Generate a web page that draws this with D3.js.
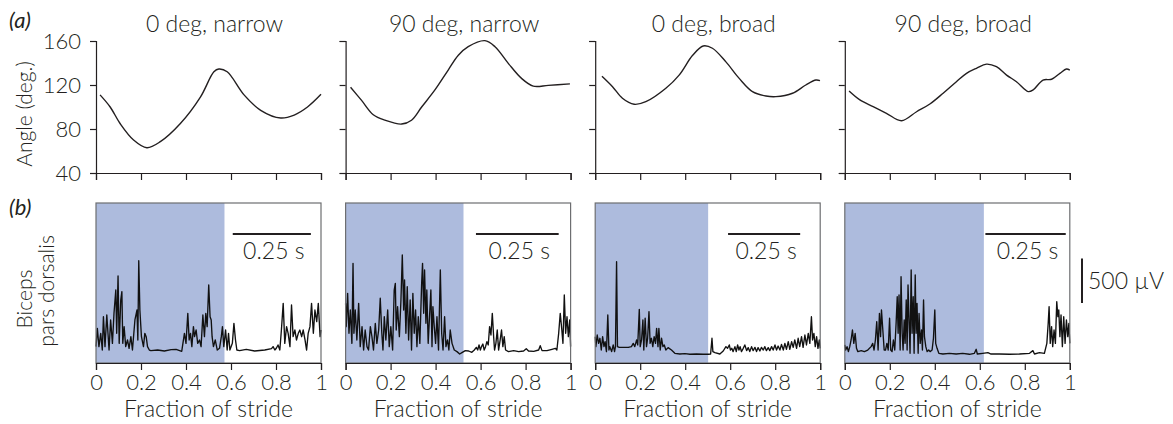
<!DOCTYPE html>
<html>
<head>
<meta charset="utf-8">
<script src="https://cdn.jsdelivr.net/npm/d3@7"></script>
<style>
  body { margin: 0; background: #fff; }
  svg text { font-family: Lato, "Open Sans", sans-serif; font-weight: 300; fill: #231f20; }
</style>
</head>
<body>
<div id="chart"></div>
<script>
// data
const titles = ['0 deg, narrow', '90 deg, narrow', '0 deg, broad', '90 deg, broad']
const stanceEnd = [0.571, 0.524, 0.502, 0.618]      // shaded part of the stride
const strideDur = [0.72, 0.68, 0.78, 0.70]           // s, gives the 0.25 s bar length
const barEnd = [0.955, 0.947, 0.911, 0.982]
const angleTicks = [40, 80, 120, 160]
const strideTicks = [0, 0.2, 0.4, 0.6, 0.8, 1]

// elbow angle, [fraction of stride, deg]
const angle0n = [[0.018,111],[0.063,100],[0.107,85],[0.167,70],[0.226,63],[0.286,68.5],[0.375,85],[0.464,109],[0.524,132],[0.546,134.5],[0.583,132],[0.658,111],[0.732,97],[0.821,90],[0.881,92.7],[0.94,100],[1.0,111.5]]
const angle90n = [[0.022,118],[0.071,106],[0.123,93],[0.175,88],[0.249,84.5],[0.293,88],[0.338,100],[0.397,115.5],[0.456,133.6],[0.501,147],[0.545,154.8],[0.619,160.3],[0.664,154.8],[0.723,139.7],[0.782,126],[0.834,119],[0.901,119.7],[0.997,121]]
const angle0b = [[0.03,128],[0.077,118.5],[0.121,108],[0.173,102.5],[0.225,104.8],[0.314,117],[0.373,129],[0.433,147],[0.48,155.5],[0.521,153.4],[0.581,141],[0.64,126],[0.699,114],[0.759,110],[0.803,109.4],[0.877,112.5],[0.936,120],[0.981,124.5],[0.999,124]]
const angle90b = [[0.019,114.5],[0.067,106.4],[0.126,100.3],[0.185,94.3],[0.252,87.5],[0.319,95.7],[0.378,102.7],[0.437,112.5],[0.496,123],[0.541,130.6],[0.585,135.2],[0.63,139],[0.674,136.6],[0.719,129],[0.763,123],[0.815,114],[0.837,115.5],[0.881,124.5],[0.919,125.2],[0.956,130.6],[0.985,134.5],[1.0,133.6]]

// biceps EMG, [% of stride, µV]
const emg0n = [[0,184],[0.6,390],[1.3,184],[2.1,334],[2.8,146],[3.3,521],[4,184],[4.8,540],[5.8,146],[6.5,484],[7.3,221],[8,559],[8.8,821],[9.2,334],[9.8,979],[10.3,221],[11,709],[11.5,803],[11.9,221],[12.5,409],[13.2,184],[14,259],[14.7,165],[15.5,296],[16.2,146],[17.3,484],[18.2,596],[18.6,259],[19,1151],[19.5,596],[20.2,296],[21.1,184],[21.7,334],[22.3,296],[22.9,184],[23.7,146],[24.4,139],[27.4,146],[30.4,135],[33.4,150],[35.6,154],[38.1,131],[39.3,334],[40,221],[40.8,559],[41.4,259],[42,334],[42.6,184],[43.3,409],[43.8,296],[44.5,371],[45.2,221],[46,259],[46.7,184],[47.5,540],[48.2,296],[48.8,559],[49.4,409],[50.1,878],[50.7,521],[51.2,484],[51.6,296],[52.2,184],[53,259],[53.9,146],[54.9,165],[55.7,296],[56.2,409],[56.8,184],[57.6,371],[58.3,146],[58.9,334],[59.5,146],[60.6,221],[61.3,446],[62,259],[62.6,146],[63.8,139],[66.8,154],[70.5,135],[75,146],[78,161],[78.7,184],[79.5,146],[80.2,169],[80.9,203],[81.7,146],[82.4,371],[83.2,671],[83.9,221],[84.7,409],[85.4,334],[86.2,184],[86.9,653],[87.6,296],[88.4,371],[89.1,259],[89.9,334],[90.6,371],[91.4,296],[92.1,371],[92.9,259],[93.6,146],[94.3,334],[95.1,409],[95.8,671],[96.6,334],[97.3,596],[98.1,465],[98.8,671],[99.6,296],[100,371]]
const emg90n = [[0,671],[0.3,409],[0.9,784],[1.5,334],[2.1,596],[2.8,221],[3.3,1121],[3.7,334],[4.3,596],[5,259],[5.8,671],[6.5,184],[7.3,409],[8,146],[8.7,371],[9.5,184],[10.2,146],[11,409],[11.7,296],[12.4,146],[13.2,446],[13.9,221],[14.7,371],[15.4,728],[16.1,334],[16.6,146],[17.2,521],[17.9,259],[18.7,596],[19.4,184],[20.1,409],[20.9,146],[21.6,821],[22.1,896],[22.5,371],[23.1,634],[23.9,296],[24.6,709],[25.2,1215],[25.8,596],[26.2,934],[26.8,334],[27.4,859],[28,259],[28.7,709],[29.3,146],[29.9,784],[30.5,334],[31.1,596],[31.7,184],[32.3,521],[33,221],[33.8,896],[34.2,1121],[34.7,559],[35.1,1046],[35.7,446],[36.1,821],[36.7,221],[37.3,521],[37.9,821],[38.4,184],[38.8,634],[39.4,409],[40,221],[40.6,521],[41.3,146],[42.1,1046],[42.7,334],[43.3,146],[44,521],[44.6,184],[45.3,259],[45.9,146],[46.5,371],[47.3,221],[48.3,146],[49.5,128],[50.7,101],[51.7,116],[53.2,139],[54.7,135],[56.1,120],[57.2,146],[58.1,176],[58.7,146],[59.3,203],[59.9,146],[60.4,184],[61,214],[61.6,146],[62.2,184],[62.8,240],[63.4,203],[64,409],[64.6,315],[65.2,559],[65.8,296],[66.2,146],[66.8,221],[67.4,371],[68,146],[68.7,259],[69.3,371],[69.9,184],[70.5,296],[71.1,146],[72.4,128],[74.7,139],[76.9,128],[79.1,135],[80.3,161],[81.3,135],[83.6,131],[85.8,146],[86.5,195],[87.3,139],[89.5,139],[91.7,154],[93.2,165],[93.9,146],[94.7,334],[95.4,559],[96.1,371],[96.6,221],[97.2,765],[97.8,334],[98.4,521],[99,296],[99.6,484],[100,184]]
const emg0b = [[0,296],[0.3,184],[0.9,315],[1.5,221],[2.1,278],[2.7,146],[3.3,296],[3.9,184],[4.4,240],[5,128],[5.6,540],[6.1,146],[6.5,184],[7.3,128],[8,203],[8.6,128],[9,184],[9.5,1140],[9.9,184],[10.7,176],[12.4,176],[14.7,176],[16.1,184],[16.9,221],[17.6,184],[18.4,259],[18.9,203],[19.6,604],[20,184],[20.6,259],[21.2,484],[21.6,146],[22.2,503],[22.8,184],[23.3,278],[23.9,578],[24.4,221],[25,278],[25.6,184],[26.2,296],[26.8,221],[27.3,390],[27.9,184],[28.3,390],[28.9,146],[29.5,278],[30.1,184],[30.7,203],[31.4,146],[32.4,173],[33.9,146],[35.4,109],[37.6,101],[39.9,105],[42.1,98],[45,101],[48,98],[50.2,98],[51.3,101],[51.9,278],[52.3,128],[53.2,116],[55.4,101],[56.9,135],[58.1,184],[58.8,165],[59.6,203],[60.1,146],[60.7,165],[61.3,128],[62.1,184],[62.7,128],[63.3,203],[63.9,146],[64.4,184],[65,128],[65.8,165],[66.5,203],[67.3,139],[68,173],[68.7,128],[69.5,184],[70.2,139],[71,176],[71.7,128],[72.4,173],[73.2,135],[73.9,176],[74.7,146],[75.4,184],[76.1,139],[76.9,173],[77.6,139],[78.4,184],[79.1,146],[79.9,203],[80.6,146],[81.3,191],[82.1,146],[82.8,210],[83.6,146],[84.3,221],[85,154],[85.8,240],[86.5,154],[87.3,240],[88,176],[88.7,259],[89.5,165],[90.2,278],[90.9,184],[91.7,296],[92.4,176],[93.2,315],[93.9,203],[94.7,334],[95.4,221],[96.1,521],[96.6,259],[97.2,334],[97.8,184],[98.4,296],[99,165],[99.6,259],[100,165]]
const emg90b = [[0,203],[0.4,146],[1,184],[1.6,128],[2.2,184],[2.8,259],[3.4,371],[4,221],[4.6,334],[5.2,165],[5.8,128],[7.3,139],[8.7,128],[10.2,146],[11.7,184],[12.4,221],[13,146],[13.6,259],[14.2,465],[14.8,146],[15.4,559],[15.9,296],[16.3,596],[16.9,371],[17.5,146],[18.1,146],[18.7,221],[19.3,146],[19.9,503],[20.4,146],[21,128],[21.6,259],[22.2,146],[22.8,446],[23.3,746],[23.7,334],[24.1,765],[24.6,146],[25,971],[25.5,334],[25.9,146],[26.4,484],[26.8,221],[27.3,709],[27.7,146],[28.1,878],[28.6,446],[29,109],[29.5,1046],[29.9,334],[30.4,746],[30.8,109],[31.3,990],[31.7,334],[32.1,671],[32.6,109],[33,559],[33.5,221],[34.1,371],[34.5,146],[35,709],[35.4,296],[36,184],[36.6,128],[37.3,146],[37.9,128],[38.8,146],[39.4,278],[40,596],[40.4,221],[41,165],[41.8,109],[43.6,101],[46.5,109],[49.5,101],[52.4,109],[55.4,98],[57.6,109],[58.4,154],[58.9,101],[61.3,109],[63.6,116],[65,101],[68.7,101],[73.2,98],[77.6,101],[82.1,109],[83.6,139],[84.3,101],[86.5,116],[88.7,109],[89.8,221],[90.4,446],[90.8,634],[91.3,221],[91.9,409],[92.4,184],[93,371],[93.6,221],[94.2,690],[94.7,521],[95.1,596],[95.6,296],[96.1,540],[96.7,184],[97.3,521],[97.9,221],[98.5,484],[99.1,296],[99.6,446],[100,221]]

const angles = [angle0n, angle90n, angle0b, angle90b]
const emgs = [emg0n, emg90n, emg0b, emg90b]

// layout
const width = 1173
const height = 424
const panelW = 225
const panelStep = 249.6
const firstLeft = 96
const topBox = {y0: 41, y1: 173}
const botBox = {y0: 203, y1: 363}

const svg = d3.select('#chart').append('svg').attr('width', width).attr('height', height)

const yAngle = d3.scaleLinear().domain([40, 160]).range([topBox.y1, topBox.y0])
const yEmg = d3.scaleLinear().domain([0, 1800]).range([botBox.y1, botBox.y0])

titles.forEach((title, i) => {
    const left = firstLeft + i * panelStep
    const x = d3.scaleLinear().domain([0, 1]).range([left, left + panelW])

    // ---- (a) joint angle
    const g = svg.append('g')
    g.append('text')
        .attr('x', x(0.5) + 6).attr('y', 32)
        .attr('text-anchor', 'middle')
        .style('font-size', '23px')
        .text(title)

    const xAxisTop = d3.axisBottom(x).tickValues(strideTicks).tickSize(7).tickFormat('')
    g.append('g').attr('transform', `translate(0,${topBox.y1})`).call(xAxisTop)

    const yAxis = d3.axisLeft(yAngle).tickValues(angleTicks).tickSize(6).tickPadding(9)
    const yg = g.append('g').attr('transform', `translate(${left},0)`).call(yAxis)
    if (i > 0) yg.selectAll('text').remove()

    g.append('path')
        .datum(angles[i])
        .attr('fill', 'none')
        .attr('stroke', '#231f20')
        .attr('stroke-width', 1.4)
        .attr('d', d3.line().x(d => x(d[0])).y(d => yAngle(d[1])).curve(d3.curveCatmullRom))

    // ---- (b) EMG
    const b = svg.append('g')
    b.append('rect')
        .attr('x', x(0)).attr('y', botBox.y0)
        .attr('width', x(stanceEnd[i]) - x(0)).attr('height', botBox.y1 - botBox.y0)
        .attr('fill', '#adbbdd')

    const xPct = d3.scaleLinear().domain([0, 100]).range([left, left + panelW])
    b.append('path')
        .datum(emgs[i])
        .attr('fill', 'none')
        .attr('stroke', '#111')
        .attr('stroke-width', 1.35)
        .attr('stroke-linejoin', 'round')
        .attr('d', d3.line().x(d => xPct(d[0])).y(d => yEmg(d[1])))

    b.append('rect')
        .attr('x', x(0)).attr('y', botBox.y0)
        .attr('width', panelW).attr('height', botBox.y1 - botBox.y0)
        .attr('fill', 'none')
        .attr('stroke', '#6d6e71')
        .attr('stroke-width', 1.2)

    const xAxisBot = d3.axisBottom(x).tickValues(strideTicks).tickSize(7).tickPadding(4)
        .tickFormat(d => d === 0 || d === 1 ? d3.format('d')(d) : d3.format('.1f')(d))
    b.append('g').attr('transform', `translate(0,${botBox.y1})`).call(xAxisBot)

    b.append('text')
        .attr('x', x(0.5)).attr('y', 417)
        .attr('text-anchor', 'middle')
        .style('font-size', '23px')
        .text('Fraction of stride')

    // 0.25 s scale bar
    const barLen = 0.25 / strideDur[i]
    const bx0 = x(barEnd[i] - barLen), bx1 = x(barEnd[i])
    b.append('line')
        .attr('x1', bx0).attr('x2', bx1).attr('y1', 234).attr('y2', 234)
        .attr('stroke', '#231f20').attr('stroke-width', 2)
    b.append('text')
        .attr('x', (bx0 + bx1) / 2 + 2).attr('y', 259)
        .attr('text-anchor', 'middle')
        .style('font-size', '23px')
        .text('0.25 s')

    if (i === titles.length - 1) {
        b.append('line')
            .attr('x1', 1082).attr('x2', 1082)
            .attr('y1', yEmg(0) - 60).attr('y2', yEmg(500) - 60)
            .attr('stroke', '#231f20').attr('stroke-width', 2)
        b.append('text')
            .attr('x', 1088).attr('y', 289)
            .style('font-size', '23px')
            .text('500 µV')
    }
})

svg.selectAll('.domain').attr('stroke', '#231f20').attr('stroke-width', 1.2)
svg.selectAll('.tick line').attr('stroke', '#231f20').attr('stroke-width', 1.2)
svg.selectAll('.tick text').style('font-size', '22px').attr('fill', '#231f20').style('font-family', 'Lato, sans-serif')

// panel letters and y titles
svg.append('text').attr('x', 9).attr('y', 28).style('font-size', '22px').style('font-style', 'italic').style('font-weight', 400).text('(a)')
svg.append('text').attr('x', 9).attr('y', 215).style('font-size', '22px').style('font-style', 'italic').style('font-weight', 400).text('(b)')

svg.append('text')
    .attr('transform', 'translate(32,114) rotate(-90)')
    .attr('text-anchor', 'middle')
    .style('font-size', '21px')
    .text('Angle (deg.)')
svg.append('text')
    .attr('transform', 'translate(32,299) rotate(-90)')
    .attr('text-anchor', 'middle')
    .style('font-size', '21px')
    .text('Biceps')
svg.append('text')
    .attr('transform', 'translate(54,291) rotate(-90)')
    .attr('text-anchor', 'middle')
    .style('font-size', '21px')
    .text('pars dorsalis')
</script>
</body>
</html>
